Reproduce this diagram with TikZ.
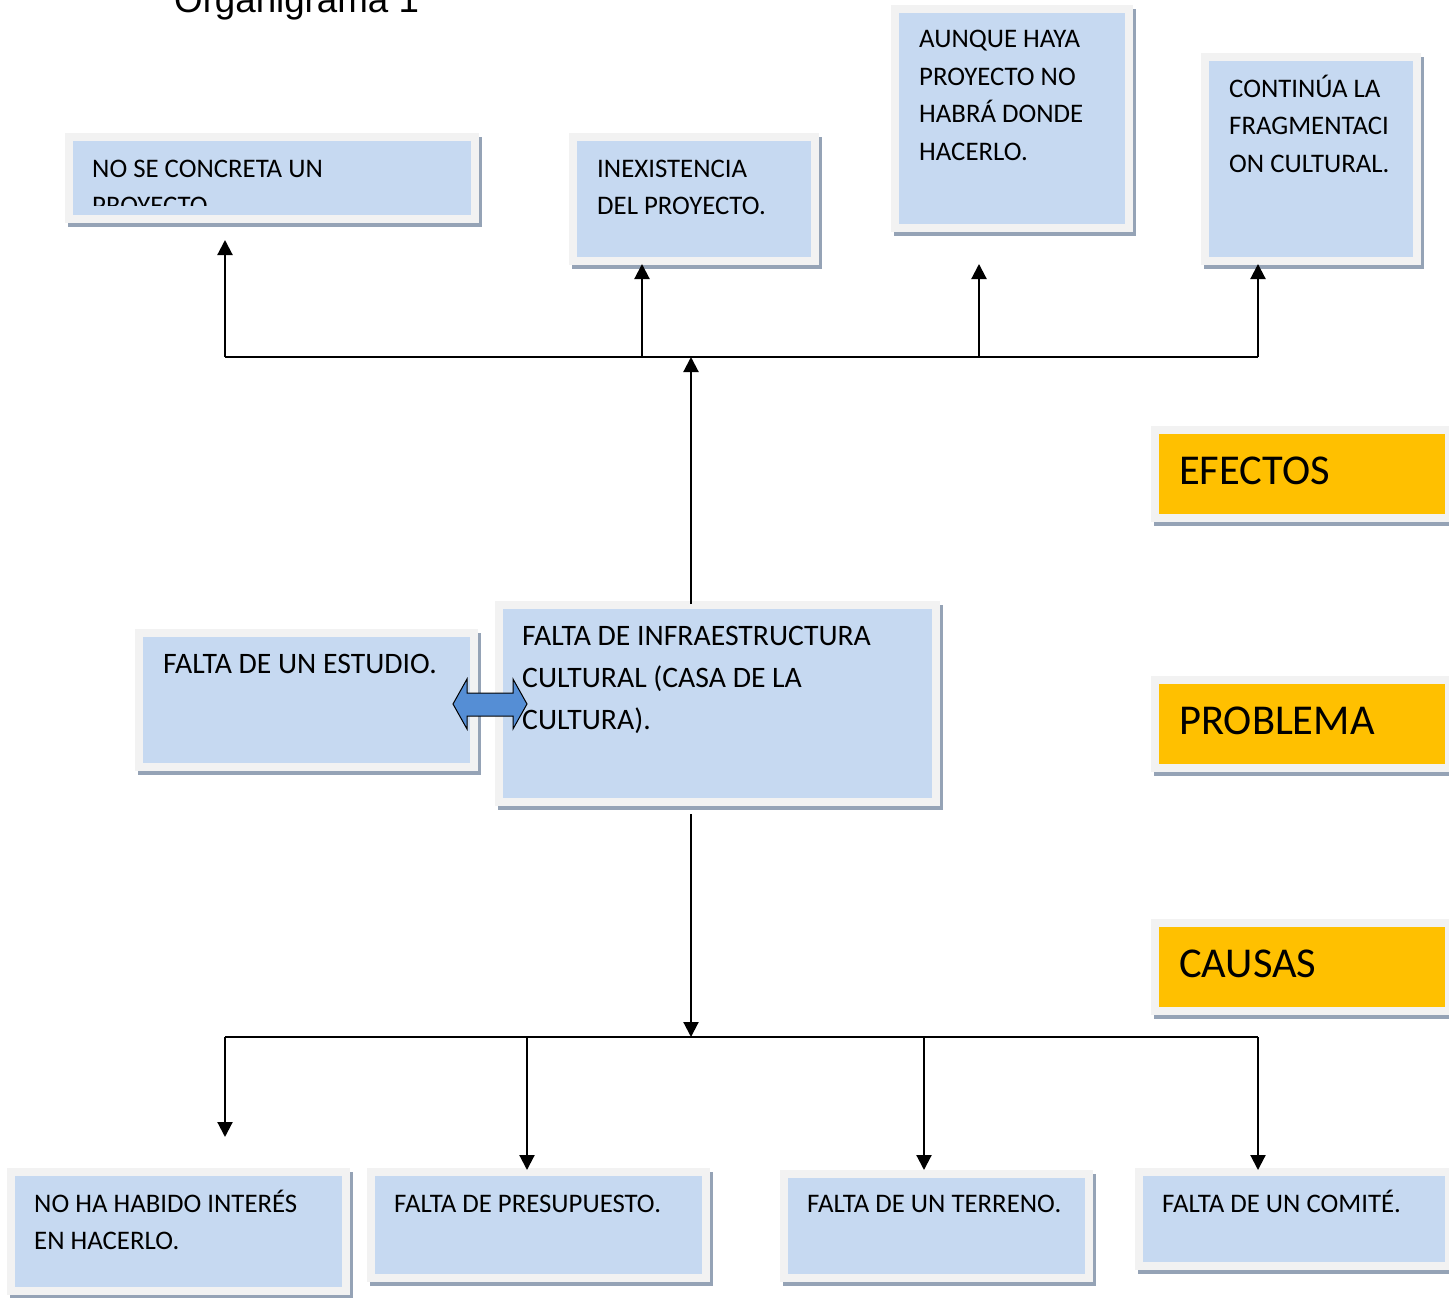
\documentclass[tikz,border=0pt]{standalone}
\usepackage{fontspec}
\setmainfont{Carlito}
\newfontfamily\arialfam{Liberation Sans}
\usetikzlibrary{arrows.meta}

\definecolor{azul}{HTML}{C6D9F1}
\definecolor{marco}{HTML}{F2F2F2}
\definecolor{gris}{HTML}{95A3B6}
\definecolor{oro}{HTML}{FFC000}
\definecolor{azulflecha}{HTML}{558ED5}

\tikzset{
  caja/.style={rectangle, fill=azul, draw=marco, line width=8pt, inner sep=0pt},
  rotulo/.style={caja, fill=oro},
  sombra/.style={fill=gris},
  texto/.style={anchor=base west, inner sep=0pt, font=\fontsize{26.8}{37.5}\selectfont},
  textogrande/.style={texto, font=\fontsize{29.7}{42}\selectfont},
  textorotulo/.style={texto, font=\fontsize{42.5}{50}\selectfont},
  linea/.style={line width=2.1pt},
  flecha/.style={linea, -{Triangle[length=15pt,width=15pt]}}
}

\begin{document}
\begin{tikzpicture}[x=1pt, y=-1pt]
  \useasboundingbox (0,0) rectangle (1449,1298);
  \clip (0,0) rectangle (1449,1298);

  \node[anchor=base west, inner sep=0pt, font=\arialfam\fontsize{36.7}{44}\selectfont] (titulo) at (174,13) {Organigrama 1};

  % efectos
  \fill[sombra] (68,137) rectangle (482,227);
  \node[caja, minimum width=406pt, minimum height=82pt] (nocreta) at (272,178) {};
  \begin{scope}
    \clip (73,141) rectangle (471,205);
    \node[texto] (tnocreta) at (92,177) {\parbox[t]{380pt}{NO SE CONCRETA UN\\PROYECTO}};
  \end{scope}

  \fill[sombra] (572,137) rectangle (822,269);
  \node[caja, minimum width=242pt, minimum height=124pt] (inexist) at (694,199) {};
  \node[texto] (tinexist) at (597,177) {\parbox[t]{220pt}{INEXISTENCIA\\DEL PROYECTO.}};

  \fill[sombra] (894,9) rectangle (1136,236);
  \node[caja, minimum width=234pt, minimum height=219pt] (aunque) at (1012,118.5) {};
  \node[texto] (taunque) at (919,48) {\parbox[t]{210pt}{AUNQUE HAYA\\PROYECTO NO\\HABRÁ DONDE\\HACERLO.}};

  \fill[sombra] (1204,57) rectangle (1424,269);
  \node[caja, minimum width=212pt, minimum height=204pt] (continua) at (1311,159) {};
  \node[texto] (tcontinua) at (1229,97) {\parbox[t]{190pt}{CONTINÚA LA\\FRAGMENTACI\\ON CULTURAL.}};

  % rotulos
  \fill[sombra] (1154,430) rectangle (1456,526);
  \node[rotulo, minimum width=294pt, minimum height=88pt] (efectos) at (1302,474) {};
  \node[textorotulo] (tefectos) at (1179,484) {EFECTOS};

  \fill[sombra] (1154,680) rectangle (1456,776);
  \node[rotulo, minimum width=294pt, minimum height=88pt] (problema) at (1302,724) {};
  \node[textorotulo] (tproblema) at (1179,734) {PROBLEMA};

  \fill[sombra] (1154,923) rectangle (1456,1019);
  \node[rotulo, minimum width=294pt, minimum height=88pt] (causas) at (1302,967) {};
  \node[textorotulo] (tcausas) at (1179,977) {CAUSAS};

  % problema
  \fill[sombra] (138,633) rectangle (481,775);
  \node[caja, minimum width=335pt, minimum height=134pt] (estudio) at (306.5,700) {};
  \node[textogrande] (testudio) at (163,673) {FALTA DE UN ESTUDIO.};

  \fill[sombra] (498,605) rectangle (943,810);
  \node[caja, minimum width=437pt, minimum height=197pt] (infra) at (717.5,703.5) {};
  \node[textogrande] (tinfra) at (522,645) {\parbox[t]{400pt}{FALTA DE INFRAESTRUCTURA\\CULTURAL (CASA DE LA\\CULTURA).}};

  % causas
  \fill[sombra] (10,1172) rectangle (353,1299);
  \node[caja, minimum width=335pt, minimum height=119pt] (interes) at (178.5,1231.5) {};
  \node[texto] (tinteres) at (34,1212) {\parbox[t]{300pt}{NO HA HABIDO INTERÉS\\EN HACERLO.}};

  \fill[sombra] (370,1172) rectangle (713,1286);
  \node[caja, minimum width=335pt, minimum height=106pt] (presup) at (538.5,1225) {};
  \node[texto] (tpresup) at (394,1212) {FALTA DE PRESUPUESTO.};

  \fill[sombra] (783,1174) rectangle (1096,1286);
  \node[caja, minimum width=305pt, minimum height=104pt] (terreno) at (936.5,1226) {};
  \node[texto] (tterreno) at (807,1212) {FALTA DE UN TERRENO.};

  \fill[sombra] (1138,1172) rectangle (1456,1274);
  \node[caja, minimum width=310pt, minimum height=94pt] (comite) at (1294,1219) {};
  \node[texto] (tcomite) at (1162,1212) {FALTA DE UN COMITÉ.};

  % conectores de arriba
  \coordinate (nudoE) at (691,357);
  \coordinate (e1) at (225,357);  \coordinate (e1p) at (225,240);
  \coordinate (e2) at (642,357);  \coordinate (e2p) at (642,264);
  \coordinate (e3) at (979,357);  \coordinate (e3p) at (979,264);
  \coordinate (e4) at (1258,357); \coordinate (e4p) at (1258,264);
  \draw[linea] (e1) -- (e4);
  \draw[flecha] (e1) -- (e1p);
  \draw[flecha] (e2) -- (e2p);
  \draw[flecha] (e3) -- (e3p);
  \draw[flecha] (e4) -- (e4p);
  \draw[flecha] ([yshift=-3pt]nudoE |- infra.north) -- (nudoE);

  % conectores de abajo
  \coordinate (nudoC) at (691,1037);
  \coordinate (c1) at (225,1037);  \coordinate (c1p) at (225,1137);
  \coordinate (c2) at (527,1037);  \coordinate (c2p) at (527,1170);
  \coordinate (c3) at (924,1037);  \coordinate (c3p) at (924,1170);
  \coordinate (c4) at (1258,1037); \coordinate (c4p) at (1258,1170);
  \draw[flecha] ([yshift=-8pt]nudoC |- infra.south) -- (nudoC);
  \draw[linea] (c1) -- (c4);
  \draw[flecha] (c1) -- (c1p);
  \draw[flecha] (c2) -- (c2p);
  \draw[flecha] (c3) -- (c3p);
  \draw[flecha] (c4) -- (c4p);

  % doble flecha
  \draw[fill=azulflecha, line width=1pt] (453,704) -- (467,679) -- (467,693) -- (513,693)
    -- (513,679) -- (527,704) -- (513,729) -- (513,716) -- (467,716) -- (467,729) -- cycle;
\end{tikzpicture}
\end{document}
